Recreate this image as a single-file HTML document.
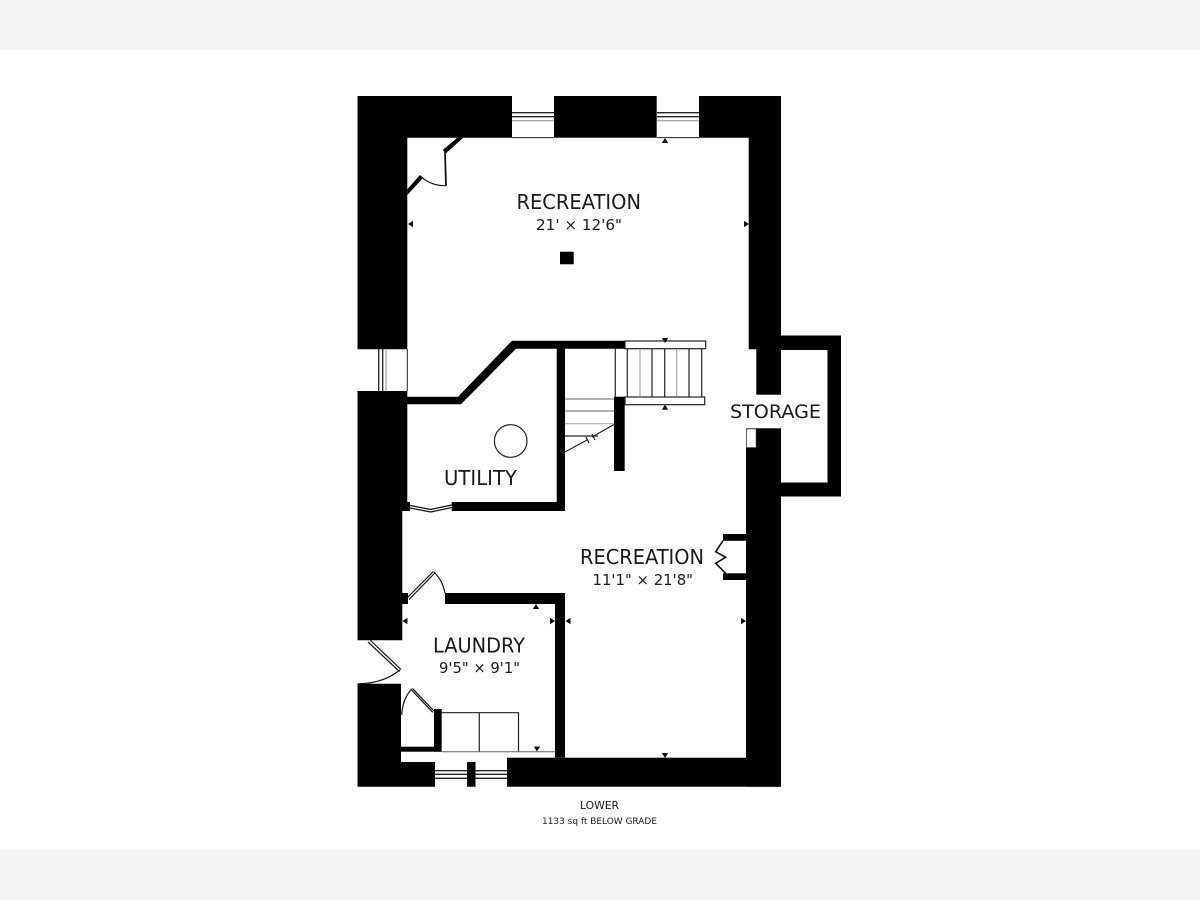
<!DOCTYPE html>
<html>
<head>
<meta charset="utf-8">
<style>
html,body{margin:0;padding:0;background:#fff}
svg{display:block}
text{font-family:"DejaVu Sans","Liberation Sans",sans-serif;fill:#1a1a1a}
</style>
</head>
<body>
<svg width="1200" height="900" viewBox="0 0 1200 900" xmlns="http://www.w3.org/2000/svg">
<rect width="1200" height="900" fill="#fff"/>
<rect width="1200" height="50" fill="#f5f5f5"/>
<rect y="850" width="1200" height="50" fill="#f5f5f5"/>

<!-- solid walls -->
<g fill="#000">
<path d="M357.5 96H512V137.7H407.3V349.3H357.5Z"/>
<rect x="554" y="96" width="102.7" height="41.7"/>
<path d="M699 96H781V349.3H748.7V137.7H699Z"/>
<rect x="756.3" y="349" width="24.7" height="45.7"/>
<path d="M781 335.5H841V496.5H781V482.5H827.5V350H781Z"/>
<rect x="746" y="428.3" width="35" height="358.4"/>
<rect x="507" y="757.7" width="274" height="29"/>
<path d="M445 593H565V757.7H555V604H445Z"/>
<path d="M357.5 391H407.3V502H410V511H402.3V640.3H357.5Z"/>
<rect x="402" y="593" width="6" height="11"/>
<path d="M357.5 683.7H401V762H435V786.7H357.5Z"/>
<rect x="467" y="762" width="8.5" height="24.7"/>
<!-- utility partition -->
<path d="M407 396.7H458L512 340.7H625V348.7H516L461 404.3H407Z"/>
<rect x="556.7" y="341" width="8.3" height="170"/>
<rect x="451.7" y="502" width="113.3" height="9"/>
<rect x="614" y="396.7" width="10.7" height="74.3"/>
<!-- post -->
<rect x="560" y="251.7" width="13.7" height="12.6"/>
<!-- closet jambs -->
<rect x="723" y="534" width="23" height="6.8"/>
<rect x="723" y="573.3" width="23" height="6.7"/>
<!-- laundry closet -->
<rect x="434" y="709" width="7.7" height="42.7"/>
<rect x="401" y="746.7" width="40" height="5"/>
<!-- top door jambs -->
<path d="M457.3 137.7H463.3L446 153.3L442.7 150Z"/>
<path d="M407.3 189.3L420 175L423.3 177.7L407.3 195Z"/>
</g>
<!-- notch -->
<rect x="746.5" y="429" width="9.5" height="18.5" fill="#fff" stroke="#555" stroke-width=".6"/>

<!-- windows -->
<g stroke="#222" stroke-width="1.3" fill="none">
<path d="M512 112.7H554M512 116.7H554M657 112.7H699M657 116.7H699"/>
<path d="M512 137.6H554M657 137.6H699" stroke-width="1"/>
<path d="M378.7 349V391M382.7 349V391"/>
<path d="M407.3 349V391" stroke-width="1"/>
<path d="M435 770.7H467M435 774.3H467M435 778.3H467M475.5 770.7H507M475.5 774.3H507M475.5 778.3H507"/>
</g>
<g stroke="#aaa" stroke-width="1.3" fill="none">
<path d="M512 120.7H554M657 120.7H699M386 349V391"/>
</g>

<!-- doors -->
<g fill="none" stroke="#111" stroke-width="1.2">
<path d="M445 152L446 185.7" stroke-width="1.8"/>
<path d="M446 185.7Q432 186 421.7 177.3"/>
<path d="M410 505.5L430.7 509.5L451.7 505"/>
<path d="M410 508L430.7 512L451.7 507.5"/>
<path d="M407.5 597.5L433.3 571.5M409 599.5L434.8 573"/>
<path d="M434 572Q443 581 445 593.3"/>
<path d="M368 642L399.5 671.5M370 640L401 669.5"/>
<path d="M400 670Q382 684 358 683.7"/>
<path d="M411.2 689.7L432.7 712.3M412.4 688.4L433.9 711"/>
<path d="M411.7 689Q402.5 699 401.7 715"/>
<path d="M723 540.7L715.7 551.7L725.7 557.3L715.7 563.3L725.7 573.3" stroke-width="1.6"/>
</g>

<!-- washer and dryer -->
<g fill="none" stroke="#222" stroke-width="1.2">
<path d="M441.7 712.7H518.5V751.7M479.3 712.7V751.7"/>
</g>
<path d="M441.7 751.7H555" stroke="#666" stroke-width="1" fill="none"/>

<!-- utility circle -->
<circle cx="510.7" cy="441" r="16.3" fill="none" stroke="#222" stroke-width="1.2"/>

<!-- stairs -->
<g fill="#fff" stroke="#222" stroke-width="1.2">
<rect x="625" y="341" width="80.7" height="7.7"/>
<rect x="625" y="397" width="79.7" height="7.7"/>
</g>
<g stroke="#222" stroke-width="1.2" fill="none">
<path d="M615.3 348.7V396.7M627.3 348.7V396.7M652 348.7V396.7M664.7 348.7V396.7M689 348.7V396.7M701.7 348.7V396.7"/>
<path d="M565 436H598"/>
<path d="M565 452L587 440M592 437L614 424.5M586 437L589 443M592 434L595 440"/>
</g>
<g stroke="#aaa" stroke-width="1.2" fill="none">
<path d="M640 348.7V396.7M676.7 348.7V396.7"/>
<path d="M565 423.7H614"/>
</g>
<path d="M565 399H614M565 411H614" stroke="#666" stroke-width="1" fill="none"/>

<!-- dimension arrows -->
<g fill="#111">
<path d="M665 138l-3.2 5h6.4Z"/>
<path d="M408 224l5-3.2v6.4Z"/>
<path d="M749 224l-5-3.2v6.4Z"/>
<path d="M665 343l-3.2-5h6.4Z"/>
<path d="M665 404.7l-3.2 5h6.4Z"/>
<path d="M536 604l-3.2 5h6.4Z"/>
<path d="M402.5 621l5-3.2v6.4Z"/>
<path d="M555 621l-5-3.2v6.4Z"/>
<path d="M565.5 621l5-3.2v6.4Z"/>
<path d="M746 621l-5-3.2v6.4Z"/>
<path d="M537 751.5l-3.2-5h6.4Z"/>
<path d="M665 758l-3.2-5h6.4Z"/>
</g>

<!-- labels -->
<g>
<text x="516.5" y="209" font-size="20" textLength="124.5" lengthAdjust="spacingAndGlyphs">RECREATION</text>
<text x="536" y="230" font-size="15.5" textLength="86" lengthAdjust="spacingAndGlyphs">21' × 12'6"</text>
<text x="730" y="418" font-size="19" textLength="91" lengthAdjust="spacingAndGlyphs">STORAGE</text>
<text x="444" y="485" font-size="20" textLength="73" lengthAdjust="spacingAndGlyphs">UTILITY</text>
<text x="580" y="564" font-size="20" textLength="124" lengthAdjust="spacingAndGlyphs">RECREATION</text>
<text x="592.5" y="585" font-size="15.5" textLength="100.5" lengthAdjust="spacingAndGlyphs">11'1" × 21'8"</text>
<text x="433" y="652.7" font-size="20" textLength="92" lengthAdjust="spacingAndGlyphs">LAUNDRY</text>
<text x="439" y="673" font-size="15.5" textLength="81" lengthAdjust="spacingAndGlyphs">9'5" × 9'1"</text>
<text x="580" y="809" font-size="11" textLength="39" lengthAdjust="spacingAndGlyphs">LOWER</text>
<text x="542" y="824" font-size="9" textLength="115" lengthAdjust="spacingAndGlyphs">1133 sq ft BELOW GRADE</text>
</g>
</svg>
</body>
</html>
